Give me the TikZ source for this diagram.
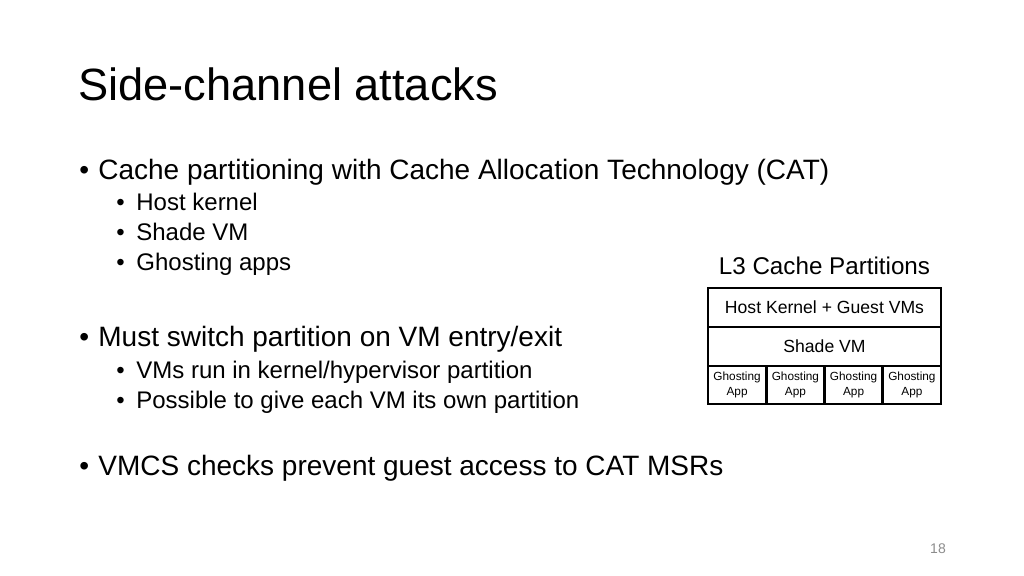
\documentclass[tikz,border=0pt]{standalone}
\usepackage{fontspec}
\setmainfont{Liberation Sans}
\usetikzlibrary{positioning}
\definecolor{pagegray}{RGB}{140,140,140}
\tikzset{
  lvlone/.style={anchor=base west,inner sep=0pt,font=\fontsize{14}{17}\selectfont},
  lvltwo/.style={anchor=base west,inner sep=0pt,font=\fontsize{12}{14}\selectfont},
  cell/.style={draw,line width=1.4pt,inner sep=0pt,align=center,font=\fontsize{8.8}{10}\selectfont},
  rowcell/.style={cell,minimum width=116.5pt,minimum height=19.5pt},
  ghostcell/.style={cell,minimum width=29.1pt,minimum height=19pt,font=\fontsize{5.9}{7.4}\selectfont}
}
\newcommand{\lvlonebul}{\makebox[9.5pt][l]{\textbullet}}
\newcommand{\lvltwobul}{\makebox[10pt][l]{\textbullet}}
\begin{document}
\begin{tikzpicture}[x=0.5pt,y=-0.5pt]
\useasboundingbox (0,0) rectangle (1024,576);
 \node[anchor=base west,inner sep=0pt,font=\fontsize{22.6}{26}\selectfont] (title) at (78,101) {Side-channel attacks};
 \node[lvlone] (capart) at (79,180) {\lvlonebul Cache partitioning with Cache Allocation Technology (CAT)};
 \node[lvltwo] (hostk) at (116,211) {\lvltwobul Host kernel};
 \node[lvltwo] (shadevm) at (116,241) {\lvltwobul Shade VM};
 \node[lvltwo] (ghostapps) at (116,271) {\lvltwobul Ghosting apps};
 \node[lvlone] (mustsw) at (79,347) {\lvlonebul Must switch partition on VM entry/exit};
 \node[lvltwo] (vmsrun) at (116,379) {\lvltwobul VMs run in kernel/hypervisor partition};
 \node[lvltwo] (ownpart) at (116,409) {\lvltwobul Possible to give each VM its own partition};
 \node[lvlone] (vmcs) at (79,476) {\lvlonebul VMCS checks prevent guest access to CAT MSRs};
 \node[anchor=base,inner sep=0pt,font=\fontsize{12.1}{14}\selectfont] (cachehead) at (824.5,275) {L3 Cache Partitions};
 \node[rowcell] (hostrow) at (824.5,307.5) {Host Kernel + Guest VMs};
 \node[rowcell] (shaderow) at (824.5,346.5) {Shade VM};
 \foreach \i/\x in {1/737.1,2/795.4,3/853.6,4/911.9}
  \node[ghostcell] (ghost\i) at (\x,385) {Ghosting\\App};
 \node[anchor=base,inner sep=0pt,text=pagegray,font=\fontsize{7}{8}\selectfont] (pagenum) at (938,554) {18};
\end{tikzpicture}
\end{document}
